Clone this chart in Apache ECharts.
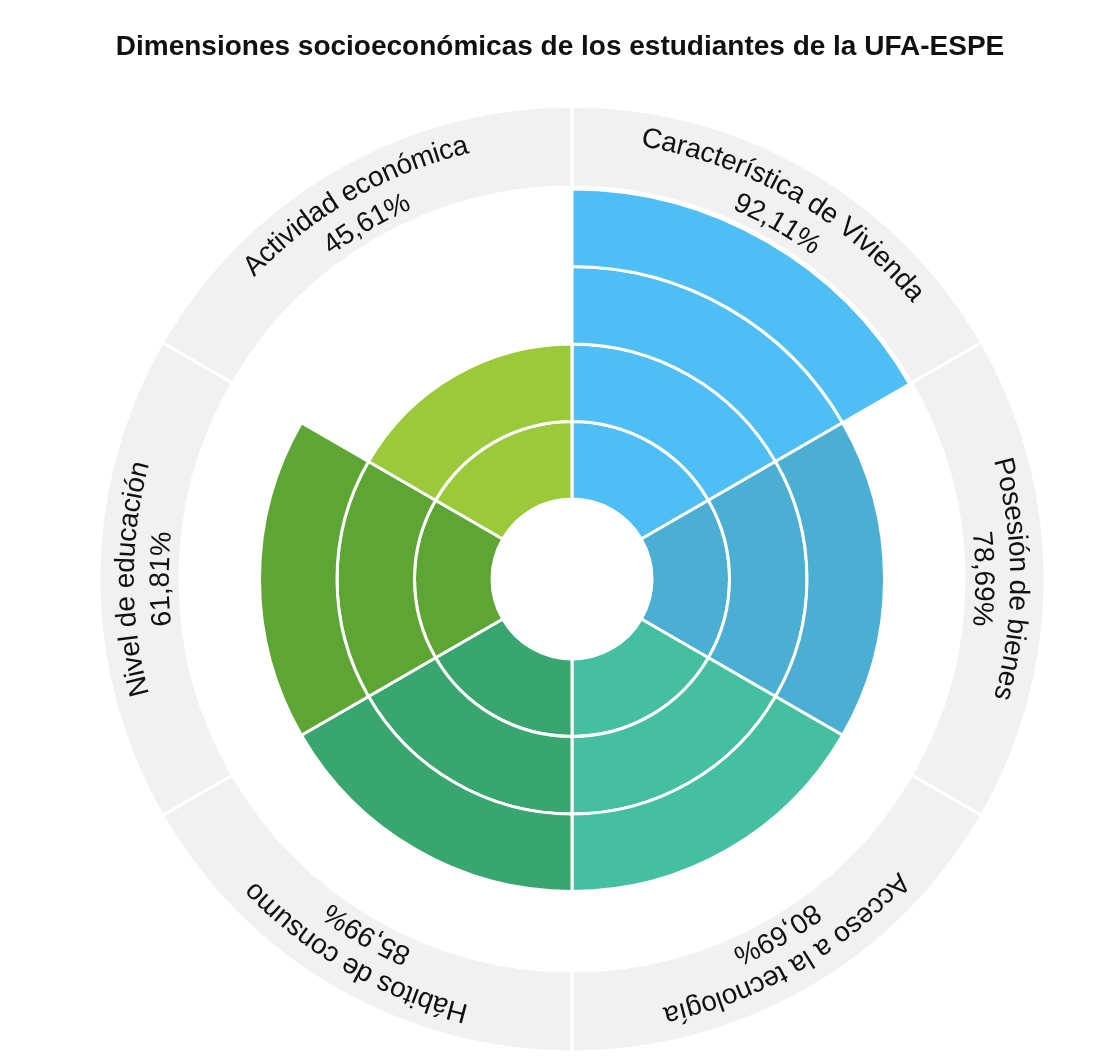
<!DOCTYPE html>
<html>
<head>
<meta charset="utf-8">
<title>Dimensiones socioeconómicas</title>
<script src="https://cdn.jsdelivr.net/npm/echarts@6/dist/echarts.min.js"></script>
<style>
    html, body { margin: 0; padding: 0; background: #fff; }
    #chart { width: 1120px; height: 1057px; }
</style>
</head>
<body>
<div id="chart"></div>
<script>
"use strict";
/** Dimensions, clockwise from 12 o'clock */
const categories = [
    "Característica de Vivienda",
    "Posesión de bienes",
    "Acceso a la tecnología",
    "Hábitos de consumo",
    "Nivel de educación",
    "Actividad económica"
];
/** Percentages shown under each name */
const percentages = [92.11, 78.69, 80.69, 85.99, 61.81, 45.61];
/** How many rings each sector fills */
const levels = [4, 3, 3, 3, 3, 2];
const palette = ["#4ebef5", "#4baed3", "#44c0a0", "#38a66e", "#5ea634", "#9ac93a"];

const LABEL_FONT = "28px 'Liberation Sans', Arial, sans-serif";
const NAME_R = 446;
const VALUE_R = 411;
const CENTER = [572, 579];

let measureCtx = document.createElement("canvas").getContext("2d");
measureCtx.font = LABEL_FONT;

function FormatPct(v) {
    return v.toFixed(2).replace(".", ",") + "%";
}
// lay text out along a circle, letters pointing outward
function PushArcText(children, text, r, mid, cx, cy) {
    let chars = Array.from(text);
    let widths = chars.map((c) => measureCtx.measureText(c).width);
    let total = widths.reduce((a, b) => a + b, 0);
    let a = mid - total / (2 * r);
    chars.forEach((c, i) => {
        let theta = a + widths[i] / (2 * r);
        children.push({
            type: "text",
            x: cx + r * Math.sin(theta),
            y: cy - r * Math.cos(theta),
            rotation: -theta,
            style: {
                text: c,
                font: LABEL_FONT,
                fill: "#111",
                align: "center",
                verticalAlign: "middle",
                textAlign: "center",
                textVerticalAlign: "middle"
            }
        });
        a += widths[i] / r;
    });
}
function RenderLabel(params, api) {
    let idx = params.dataIndex;
    let cs = params.coordSys;
    let p = api.coord([api.value(0), api.value(1)]);
    let mid = Math.atan2(p[0] - cs.cx, cs.cy - p[1]);
    let children = [];
    PushArcText(children, categories[idx], NAME_R, mid, cs.cx, cs.cy);
    PushArcText(children, FormatPct(percentages[idx]), VALUE_R, mid, cs.cx, cs.cy);
    return { type: "group", children: children };
}

let ringSeries = [];
for (let k = 1; k <= 4; k++) {
    ringSeries.push({
        type: "bar",
        coordinateSystem: "polar",
        polarIndex: 0,
        stack: "levels",
        barCategoryGap: "0%",
        silent: true,
        itemStyle: { borderColor: "#fff", borderWidth: 3 },
        data: categories.map((c, i) => levels[i] >= k ? { value: 1, itemStyle: { color: palette[i] } } : "-")
    });
}

let chart = echarts.init(document.getElementById("chart"));
chart.setOption({
    animation: false,
    backgroundColor: "#fff",
    title: {
        text: "Dimensiones socioeconómicas de los estudiantes de la UFA-ESPE",
        left: "center",
        top: 28,
        textStyle: {
            fontFamily: "'Liberation Sans', Arial, sans-serif",
            fontSize: 28,
            fontWeight: "bold",
            color: "#111"
        }
    },
    polar: [
        { center: CENTER, radius: [80, 390] },
        { center: CENTER, radius: [392, 473] }
    ],
    angleAxis: [
        { polarIndex: 0, type: "category", data: categories, startAngle: 90, clockwise: true, show: false },
        { polarIndex: 1, type: "category", data: categories, startAngle: 90, clockwise: true, show: false }
    ],
    radiusAxis: [
        { polarIndex: 0, type: "value", min: 0, max: 4, show: false },
        { polarIndex: 1, type: "value", min: 0, max: 1, show: false }
    ],
    series: ringSeries.concat([
        {
            type: "bar",
            coordinateSystem: "polar",
            polarIndex: 1,
            barCategoryGap: "0%",
            silent: true,
            itemStyle: { color: "#f1f1f1", borderColor: "#fff", borderWidth: 3 },
            data: categories.map(() => 1)
        },
        {
            type: "custom",
            coordinateSystem: "polar",
            polarIndex: 1,
            silent: true,
            z: 10,
            encode: { radius: 0, angle: 1 },
            renderItem: RenderLabel,
            data: categories.map((c, i) => [0.5, i])
        }
    ])
});
</script>
</body>
</html>
